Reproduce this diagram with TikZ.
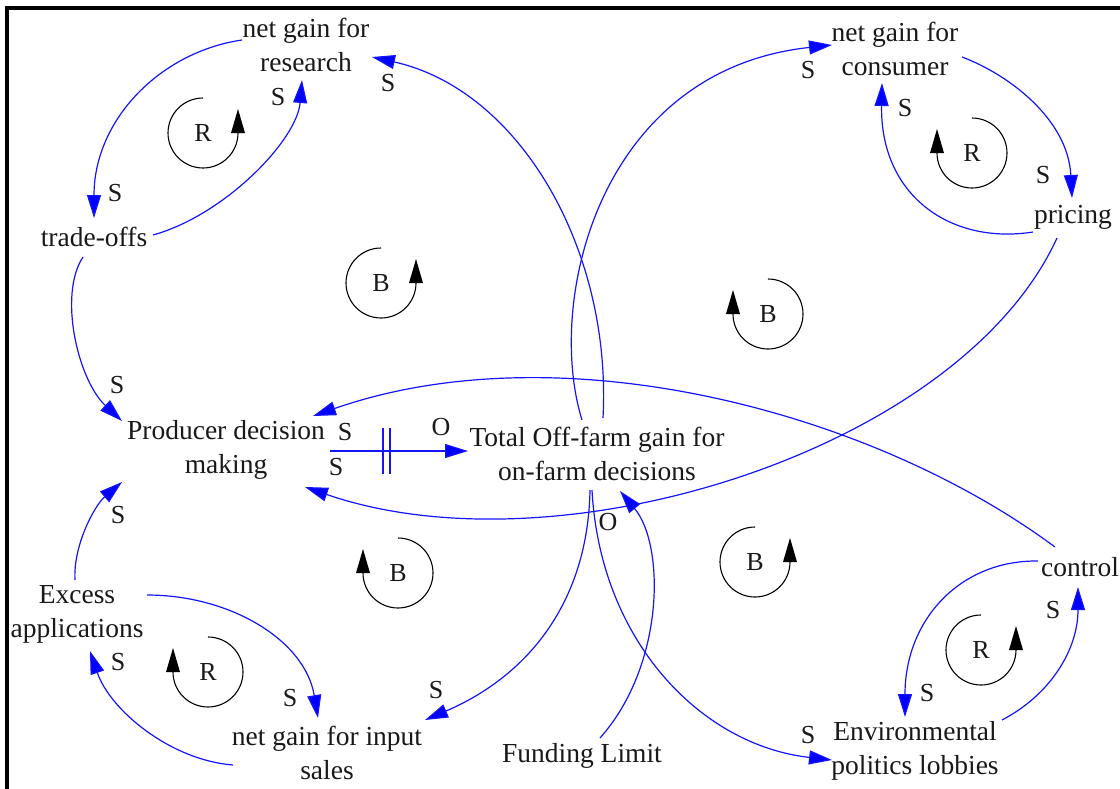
\documentclass[tikz,border=0pt]{standalone}
\usepackage{fontspec}
\setmainfont{Liberation Serif}
\usetikzlibrary{arrows.meta}
\definecolor{linkblue}{RGB}{20,20,255}
\tikzset{
  var/.style={align=center, inner sep=0pt, text=black!90, font=\fontsize{27.5}{34}\selectfont},
  lbl/.style={inner sep=0pt, text=black!90, font=\fontsize{26}{30}\selectfont},
  link/.style={draw=linkblue, line width=1.2pt, -{Triangle[length=23pt,width=14pt,fill=blue]}},
  delaymark/.style={draw=linkblue, line width=1.2pt},
  loopline/.style={draw=black, line width=1.1pt},
  ccwloop/.pic={
    \draw[loopline] (0,-35) arc[start angle=270, end angle=0, radius=35];
    \fill[black] (28,0) -- (42,0) -- (35,-24) -- cycle;
    \node[lbl] at (0,0) {#1};
  },
  cwloop/.pic={
    \draw[loopline] (0,-35) arc[start angle=-90, end angle=180, radius=35];
    \fill[black] (-28,0) -- (-42,0) -- (-35,-24) -- cycle;
    \node[lbl] at (0,0) {#1};
  }
}
\begin{document}
\begin{tikzpicture}[x=1pt, y=-1pt]
\useasboundingbox (0,0) rectangle (1120,788);
% frame (only left and top edges visible)
\draw[line width=4pt, line cap=rect] (7,788) -- (7,8) -- (1120,8);

% variables
\node[var] (res) at (306,45) {net gain for\\research};
\node[var] (trade) at (94,237) {trade-offs};
\node[var] (cons) at (895,49) {net gain for\\consumer};
\node[var] (pricing) at (1073,217) {pricing};
\node[var] (prod) at (226,450) {Producer decision\\making};
\node[var] (total) at (597,454) {Total Off-farm gain for\\on-farm decisions};
\node[var] (excess) at (77,614) {Excess\\applications};
\node[var] (input) at (327,753) {net gain for input\\sales};
\node[var] (fund) at (582,756) {Funding Limit};
\node[var] (env) at (915,751) {Environmental\\politics lobbies};
\node[var] (control) at (1080,567) {control};

% loop markers
\pic at (203,133) {ccwloop=R};
\pic at (381,283) {ccwloop=B};
\pic at (768,314) {cwloop=B};
\pic at (972,153) {cwloop=R};
\pic at (398,573) {cwloop=B};
\pic at (208,672) {cwloop=R};
\pic at (755,562) {ccwloop=B};
\pic at (981,650) {ccwloop=R};

% links
\draw[link] ([shift={(-64,-5)}]res.center) .. controls (160,52) and (94,120) .. ([shift={(0,-19)}]trade.center);
\draw[link] ([shift={(59,-2)}]trade.center) .. controls (225,215) and (297,140) .. ([shift={(-4,35)}]res.center);
\draw[link] ([shift={(67,8)}]cons.center) .. controls (1010,75) and (1068,120) .. ([shift={(-1,-19)}]pricing.center);
\draw[link] ([shift={(-40,15)}]pricing.center) .. controls (950,245) and (880,195) .. ([shift={(-13,34)}]cons.center);
\draw[link] ([shift={(6,-36)}]total.center) .. controls (612,250) and (520,90) .. ([shift={(66,12)}]res.center);
\draw[link] ([shift={(-15,-34)}]total.center) .. controls (545,300) and (600,70) .. ([shift={(-63,-4)}]cons.center);
\draw[link] ([shift={(-11,20)}]trade.center) .. controls (58,295) and (78,380) .. ([shift={(-104,-29)}]prod.center);
\draw[link] ([shift={(-2,-34)}]excess.center) .. controls (73,545) and (95,505) .. ([shift={(-104,32)}]prod.center);
\draw[link] ([shift={(104,1)}]prod.center) -- coordinate[pos=0.384] (d1) coordinate[pos=0.435] (d2) ([shift={(-129,-3)}]total.center);
\draw[delaymark] ([shift={(0,-23)}]d1) -- ([shift={(0,23)}]d1);
\draw[delaymark] ([shift={(0,-23)}]d2) -- ([shift={(0,23)}]d2);
\draw[link] ([shift={(-25,-20)}]control.center) .. controls (870,410) and (560,330) .. ([shift={(87,-34)}]prod.center);
\draw[link] ([shift={(-16,21)}]pricing.center) .. controls (960,450) and (560,575) .. ([shift={(79,37)}]prod.center);
\draw[link] ([shift={(-7,36)}]total.center) .. controls (588,600) and (530,675) .. ([shift={(98,-33)}]input.center);
\draw[link] ([shift={(-5,36)}]total.center) .. controls (600,640) and (700,745) .. ([shift={(-83,9)}]env.center);
\draw[link] ([shift={(18,-18)}]fund.center) .. controls (665,665) and (665,545) .. ([shift={(23,37)}]total.center);
\draw[link] ([shift={(70,-19)}]excess.center) .. controls (230,595) and (305,640) .. ([shift={(-9,-35)}]input.center);
\draw[link] ([shift={(-94,12)}]input.center) .. controls (170,760) and (110,710) .. ([shift={(13,37)}]excess.center);
\draw[link] ([shift={(-42,-6)}]control.center) .. controls (960,560) and (905,620) .. ([shift={(-10,-34)}]env.center);
\draw[link] ([shift={(87,-31)}]env.center) .. controls (1050,695) and (1078,650) .. ([shift={(-2,20)}]control.center);

% polarity labels
\node[lbl] (s1) at (115,193) {S};
\node[lbl] (s2) at (278,97) {S};
\node[lbl] (s3) at (388,83) {S};
\node[lbl] (s4) at (808,70) {S};
\node[lbl] (s5) at (1043,175) {S};
\node[lbl] (s6) at (905,108) {S};
\node[lbl] (s7) at (117,385) {S};
\node[lbl] (s8) at (345,432) {S};
\node[lbl] (s9) at (336,467) {S};
\node[lbl] (o1) at (441,427) {O};
\node[lbl] (s10) at (118,515) {S};
\node[lbl] (o2) at (608,522) {O};
\node[lbl] (s11) at (290,698) {S};
\node[lbl] (s12) at (118,662) {S};
\node[lbl] (s13) at (436,690) {S};
\node[lbl] (s14) at (808,735) {S};
\node[lbl] (s15) at (927,693) {S};
\node[lbl] (s16) at (1053,610) {S};
\end{tikzpicture}
\end{document}
